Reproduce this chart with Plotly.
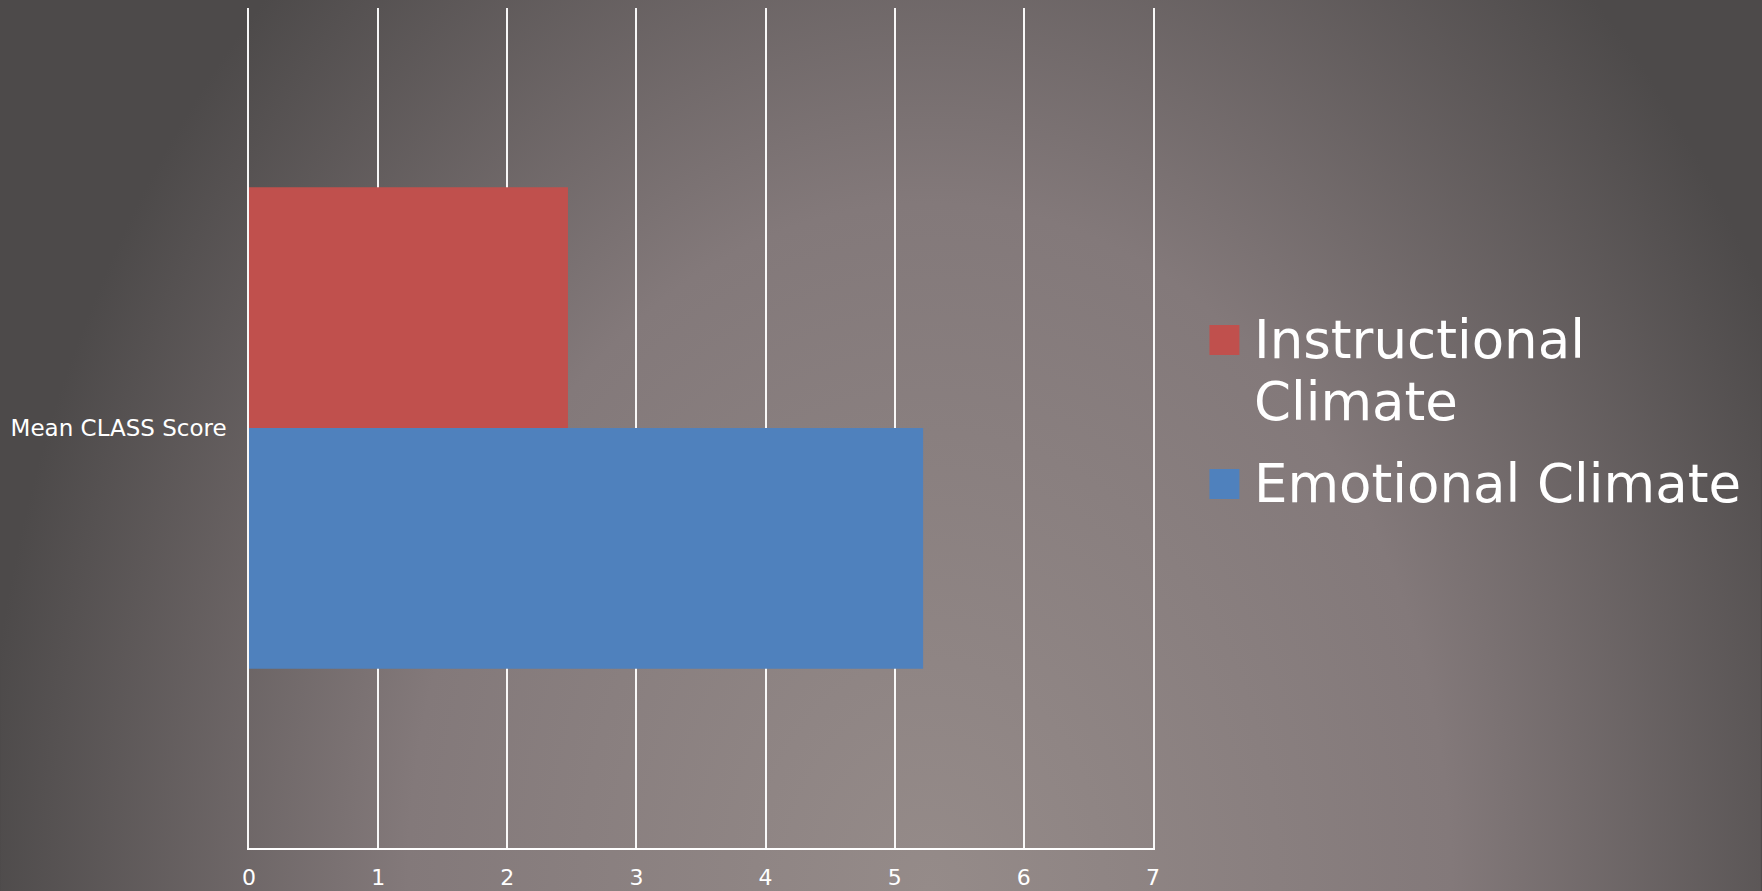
import base64
import plotly.graph_objects as go

# ---- data ----
categories = ["Mean CLASS Score"]
series_names = ["Instructional Climate", "Emotional Climate"]
instructional = [2.47]
emotional = [5.22]
x_ticks = [0, 1, 2, 3, 4, 5, 6, 7]
legend_lines = [["Instructional", "Climate"], ["Emotional Climate"]]
colors = {"Instructional Climate": "#c0504d", "Emotional Climate": "#4f81bd"}

W, H = 1762, 891
L, R, T, B = 248.5, 1153.5, 8, 848
PW, PH = R - L, B - T
FONT = "DejaVu Sans, Verdana, sans-serif"


def px_x(x):
    return (x - L) / PW


def px_y(y):
    return (B - y) / PH


fig = go.Figure()
# Emotional first -> drawn at the bottom of the group, Instructional on top
fig.add_trace(go.Bar(y=categories, x=emotional, name=series_names[1], orientation="h",
                     marker=dict(color=colors[series_names[1]], line=dict(width=0))))
fig.add_trace(go.Bar(y=categories, x=instructional, name=series_names[0], orientation="h",
                     marker=dict(color=colors[series_names[0]], line=dict(width=0))))

# background gradient
svg = (
    f"<svg xmlns='http://www.w3.org/2000/svg' width='{W}' height='{H}' viewBox='0 0 {W} {H}' preserveAspectRatio='none'>"
    "<defs><radialGradient id='g' gradientUnits='userSpaceOnUse' cx='930' cy='891' r='950' "
    "gradientTransform='translate(930 891) scale(1 1.316) translate(-930 -891)'>"
    "<stop offset='0' stop-color='#958b89'/>"
    "<stop offset='0.55' stop-color='#83797a'/>"
    "<stop offset='1' stop-color='#4d4a4a'/>"
    "</radialGradient></defs>"
    f"<rect x='-10' y='-10' width='{W + 20}' height='{H + 20}' fill='url(#g)'/></svg>"
)
src = "data:image/svg+xml;base64," + base64.b64encode(svg.encode()).decode()

shapes = []
annotations = []
legend_swatch_tops = [325, 469]
legend_line_centers = [[339, 401], [483]]
for i, name in enumerate(series_names):
    top = legend_swatch_tops[i]
    shapes.append(dict(type="rect", xref="paper", yref="paper",
                       x0=px_x(1210), x1=px_x(1240), y0=px_y(top + 30), y1=px_y(top),
                       fillcolor=colors[name], line=dict(width=0)))
    for line, yc in zip(legend_lines[i], legend_line_centers[i]):
        annotations.append(dict(text=line, xref="paper", yref="paper",
                                x=px_x(1253), y=px_y(yc), xanchor="left", yanchor="middle",
                                showarrow=False, font=dict(family=FONT, size=53, color="white")))

fig.update_layout(
    width=W, height=H, autosize=False,
    margin=dict(l=L, r=W - R, t=T, b=H - B, pad=0, autoexpand=False),
    paper_bgcolor="#4d4a4a",
    plot_bgcolor="rgba(0,0,0,0)",
    barmode="group", bargap=0.427, bargroupgap=0,
    showlegend=False,
    font=dict(family=FONT, size=23, color="white"),
    images=[dict(source=src, xref="paper", yref="paper", x=-L / PW, y=1 + T / PH,
                 sizex=W / PW, sizey=H / PH, xanchor="left", yanchor="top",
                 sizing="stretch", layer="below")],
    shapes=shapes,
    annotations=annotations,
    xaxis=dict(range=[0, 7], tickvals=x_ticks, ticktext=[str(v) for v in x_ticks],
               showgrid=True, gridcolor="rgba(255,255,255,0.95)", gridwidth=1.5,
               zeroline=False, showline=True, linecolor="white", linewidth=2,
               ticks="", ticklabelstandoff=9, automargin=False,
               tickfont=dict(family=FONT, size=22, color="white"), fixedrange=True),
    yaxis=dict(showgrid=False, zeroline=False, showline=True, mirror=True,
               linecolor="rgba(255,255,255,0.95)", linewidth=1.5,
               ticks="", ticklabelstandoff=16, automargin=False,
               tickfont=dict(family=FONT, size=23, color="white"), fixedrange=True),
)

fig.write_html("out.html", config={"displayModeBar": False, "responsive": False})
